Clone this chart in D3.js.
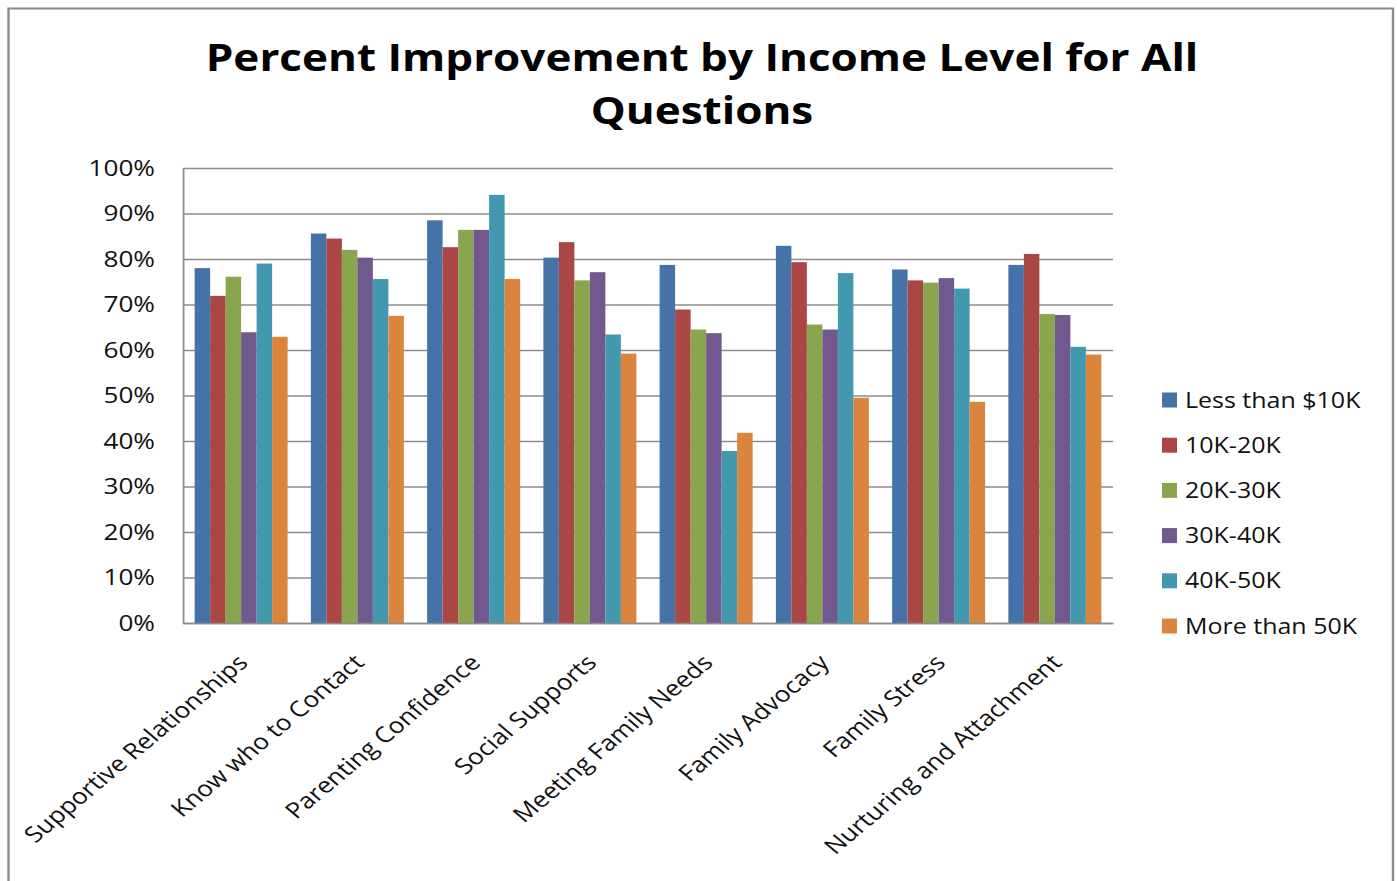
<!DOCTYPE html>
<html>
<head>
<meta charset="utf-8">
<script src="https://cdn.jsdelivr.net/npm/d3@7"></script>
<style>
  body { margin: 0; background: #fff; }
  text { font-family: "Open Sans", sans-serif; fill: #111; }
</style>
</head>
<body>
<svg id="chart"></svg>
<script>
const categories = ["Supportive Relationships", "Know who to Contact", "Parenting Confidence",
  "Social Supports", "Meeting Family Needs", "Family Advocacy", "Family Stress", "Nurturing and Attachment"];
const seriesNames = ["Less than $10K", "10K-20K", "20K-30K", "30K-40K", "40K-50K", "More than 50K"];
const lessThan10K = [78.0, 85.6, 88.5, 80.3, 78.7, 82.9, 77.7, 78.7];
const k10to20     = [71.9, 84.5, 82.6, 83.7, 68.9, 79.3, 75.3, 81.1];
const k20to30     = [76.1, 82.0, 86.4, 75.3, 64.5, 65.6, 74.8, 67.9];
const k30to40     = [63.9, 80.3, 86.4, 77.1, 63.7, 64.5, 75.8, 67.7];
const k40to50     = [79.0, 75.6, 94.1, 63.4, 37.8, 76.9, 73.5, 60.7];
const moreThan50K = [62.9, 67.5, 75.6, 59.2, 41.8, 49.5, 48.6, 59.0];
const yTicks = [0, 10, 20, 30, 40, 50, 60, 70, 80, 90, 100];

const colors = ["#4572A7", "#AA4643", "#89A54E", "#71588F", "#4198AF", "#DB843D"];
const series = [lessThan10K, k10to20, k20to30, k30to40, k40to50, moreThan50K];

const width = 1397, height = 881;
// the original picture is stretched sideways, so draw in a narrower frame and scale x
const SX = 1.19;
const px = v => v / SX;
const margin = {top: 168, right: 1397 - 1113, bottom: 881 - 623, left: 183};

const svg = d3.select("#chart")
  .attr("width", width)
  .attr("height", height);

svg.append("rect").attr("width", width).attr("height", height).attr("fill", "#fff");

const g = svg.append("g").attr("transform", `scale(${SX},1)`);

// outer frame
g.append("rect")
  .attr("x", px(8.5)).attr("y", 8.5)
  .attr("width", px(1393 - 8.5)).attr("height", 920)
  .attr("fill", "none").attr("stroke", "#8a8a8a").attr("stroke-width", 2);

// title
const title = g.append("text")
  .attr("x", px(702)).attr("text-anchor", "middle")
  .style("font-weight", "700").style("font-size", "37px").style("fill", "#000");
title.append("tspan").attr("x", px(702)).attr("y", 71).text("Percent Improvement by Income Level for All");
title.append("tspan").attr("x", px(702)).attr("y", 124).text("Questions");

let x0 = d3.scaleBand()
  .domain(categories)
  .range([px(margin.left), px(width - margin.right)])
  .paddingInner(0.2)
  .paddingOuter(0.1);

let x1 = d3.scaleBand()
  .domain(d3.range(seriesNames.length))
  .range([0, x0.bandwidth()]);

let y = d3.scaleLinear()
  .domain([0, 100])
  .range([height - margin.bottom, margin.top]);

// gridlines + y labels
const yAxis = g.append("g")
  .attr("transform", `translate(${px(margin.left)},0)`)
  .call(d3.axisLeft(y)
    .tickValues(yTicks)
    .tickFormat(d => d + "%")
    .tickSize(-(px(width - margin.right) - px(margin.left)))
    .tickSizeOuter(0)
    .tickPadding(px(28)));
yAxis.selectAll(".tick line").attr("stroke", "#8c8c8c").attr("stroke-width", 1.5);
yAxis.select(".domain").attr("stroke", "#8c8c8c").attr("stroke-width", 1.5);
yAxis.selectAll("text").style("font-size", "22px").attr("fill", "#111");

// bars
const groups = g.append("g")
  .selectAll("g")
  .data(categories)
  .join("g")
  .attr("transform", d => `translate(${x0(d)},0)`);

groups.selectAll("rect")
  .data((d, i) => series.map((s, j) => ({j: j, value: s[i]})))
  .join("rect")
  .attr("x", d => x1(d.j))
  .attr("y", d => y(d.value))
  .attr("width", x1.bandwidth())
  .attr("height", d => y(0) - y(d.value))
  .attr("fill", d => colors[d.j]);

// x axis
const xAxis = g.append("g")
  .attr("transform", `translate(0,${height - margin.bottom})`)
  .call(d3.axisBottom(x0).tickSize(0).tickSizeOuter(0).tickPadding(0));
xAxis.select(".domain").attr("stroke", "#8c8c8c").attr("stroke-width", 1.5);
xAxis.selectAll("text")
  .style("font-size", "22px")
  .attr("fill", "#111")
  .attr("x", 0).attr("y", 0)
  .attr("text-anchor", "end")
  .attr("transform", `translate(${px(-5)},30) rotate(-45)`);

// legend
const legend = g.append("g")
  .selectAll("g")
  .data(seriesNames)
  .join("g")
  .attr("transform", (d, i) => `translate(${px(1162)},${400 + i * 45.2})`);

legend.append("rect")
  .attr("x", 0).attr("y", -7.5)
  .attr("width", px(15)).attr("height", 15)
  .attr("fill", (d, i) => colors[i]);

legend.append("text")
  .attr("x", px(23)).attr("y", 7.5)
  .style("font-size", "21px")
  .text(d => d);
</script>
</body>
</html>
